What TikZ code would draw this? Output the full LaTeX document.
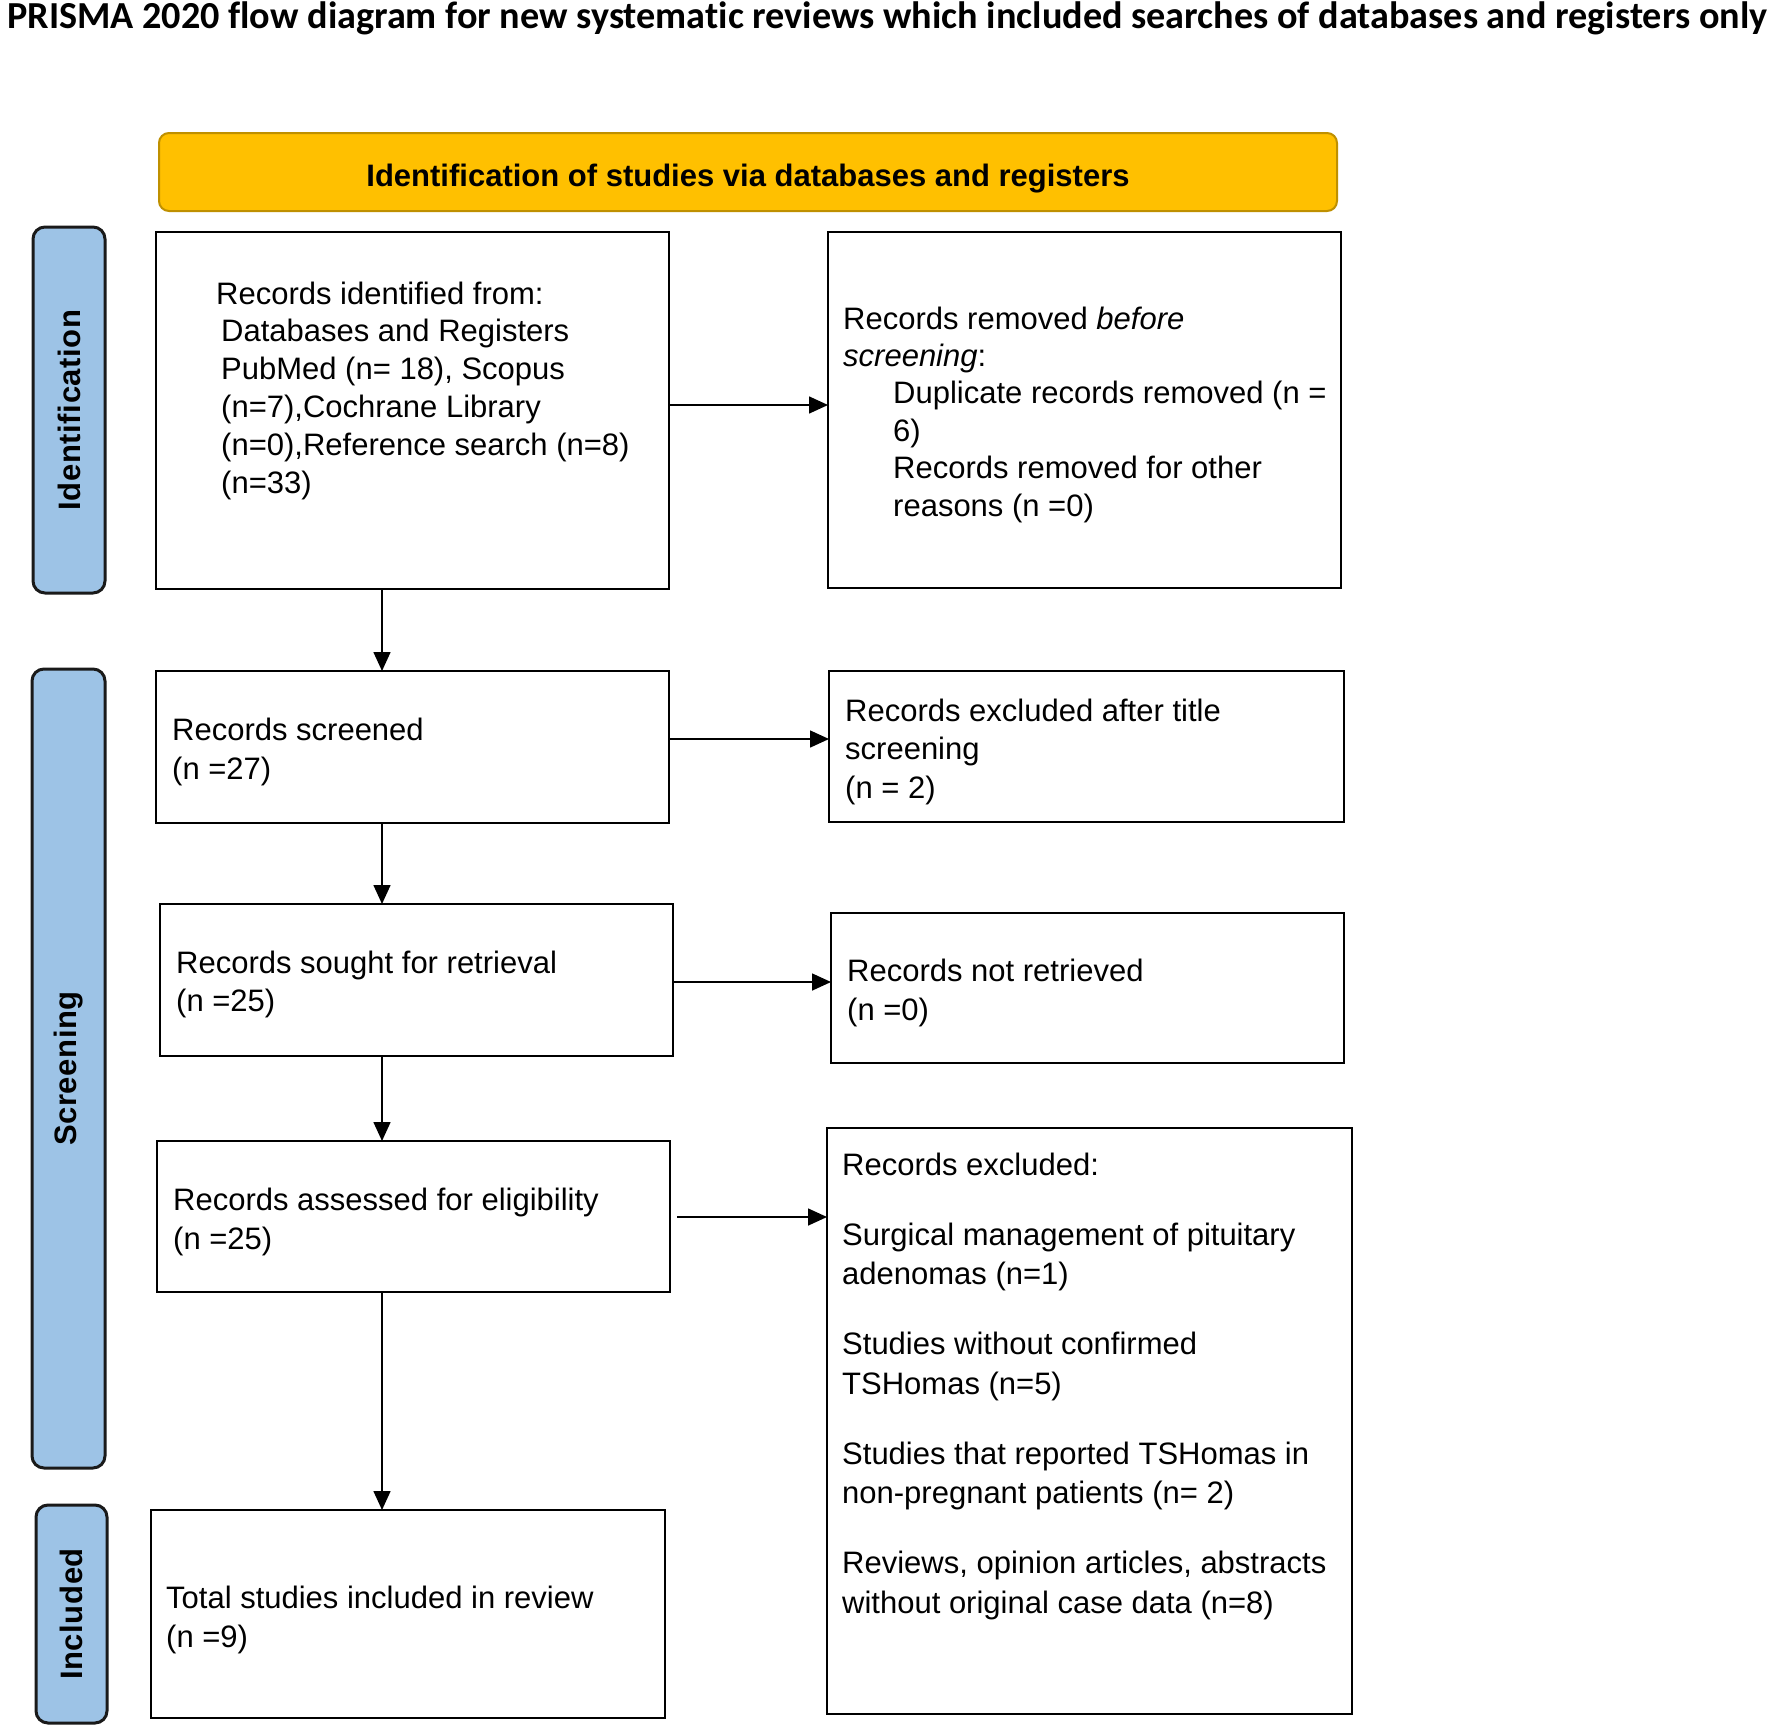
\documentclass[tikz,border=0pt]{standalone}
\usepackage{graphicx}
\usepackage{fontspec}
\setmainfont{Liberation Sans}
\newfontfamily\titlefont[Ligatures=NoCommon]{Carlito}
\newfontfamily\sidefont[LetterSpace=2]{Liberation Sans}
\usetikzlibrary{arrows.meta}
\definecolor{yelfill}{HTML}{FFC000}
\definecolor{yeldraw}{HTML}{BF9000}
\definecolor{sidefill}{HTML}{9DC3E6}
\definecolor{sidedraw}{HTML}{1A1A1A}
\begin{document}
\begin{tikzpicture}[x=1pt,y=-1pt,
  prbox/.style={draw=black, line width=2.5pt, fill=white, inner sep=0pt, outer sep=0pt},
  yel/.style={draw=yeldraw, fill=yelfill, line width=2pt, rounded corners=10pt, inner sep=0pt, outer sep=0pt},
  sidebar/.style={draw=sidedraw, fill=sidefill, line width=3pt, rounded corners=12pt, inner sep=0pt, outer sep=0pt},
  sidelabel/.style={rotate=90, inner sep=0pt, font=\sidefont\bfseries\fontsize{31}{37}\selectfont},
  txt/.style={anchor=north west, inner sep=0pt, align=left, font=\fontsize{31}{#1}\selectfont},
  txt/.default=38.5,
  arr/.style={line width=1.6pt, -{Triangle[length=19pt,width=17pt]}}
]
\useasboundingbox (0,0) rectangle (1772,1729);
\fill[white] (0,0) rectangle (1772,1729);

% title
\node[anchor=base west, inner sep=0pt] (title) at (7,28)
  {\resizebox{1760pt}{!}{\titlefont\bfseries PRISMA 2020 flow diagram for new systematic reviews which included searches of databases and registers only}};

% header
\node[yel, minimum width=1178pt, minimum height=78pt] (head) at (748,172) {};
\node[anchor=base, inner sep=0pt, font=\bfseries\fontsize{31}{37}\selectfont] (headtxt) at (748,186)
  {Identification of studies via databases and registers};

% sidebars
\node[sidebar, minimum width=72pt, minimum height=366pt] (sid1) at (69,410) {};
\node[sidelabel] (sid1t) at (sid1.center) {Identification};
\node[sidebar, minimum width=73pt, minimum height=799pt] (sid2) at (68.5,1068.5) {};
\node[sidelabel] (sid2t) at (sid2.center) {Screening};
\node[sidebar, minimum width=71pt, minimum height=218pt] (sid3) at (71.5,1614) {};
\node[sidelabel] (sid3t) at (sid3.center) {Included};

% boxes
\node[prbox, minimum width=513pt, minimum height=357pt] (b1) at (412.5,410.5) {};
\node[prbox, minimum width=513pt, minimum height=356pt] (rem) at (1084.5,410) {};
\node[prbox, minimum width=513pt, minimum height=152pt] (scr) at (412.5,747) {};
\node[prbox, minimum width=515pt, minimum height=151pt] (ext) at (1086.5,746.5) {};
\node[prbox, minimum width=513pt, minimum height=152pt] (sou) at (416.5,980) {};
\node[prbox, minimum width=513pt, minimum height=150pt] (nre) at (1087.5,988) {};
\node[prbox, minimum width=513pt, minimum height=151pt] (ass) at (413.5,1216.5) {};
\node[prbox, minimum width=525pt, minimum height=586pt] (exc) at (1089.5,1421) {};
\node[prbox, minimum width=514pt, minimum height=208pt] (tot) at (408,1614) {};

% texts
\node[txt=37.8] (b1t) at (216,277.5) {\strut Records identified from:\\
\hspace*{5pt}\strut Databases and Registers\\
\hspace*{5pt}\strut PubMed (n= 18), Scopus\\
\hspace*{5pt}\strut (n=7),Cochrane Library\\
\hspace*{5pt}\strut (n=0),Reference search (n=8)\\
\hspace*{5pt}\strut (n=33)};
\node[txt=37.4] (remt) at (843,302.8) {\strut Records removed \textit{before}\\
\strut\textit{screening}:\\
\hspace*{50pt}\strut Duplicate records removed (n =\\
\hspace*{50pt}\strut 6)\\
\hspace*{50pt}\strut Records removed for other\\
\hspace*{50pt}\strut reasons (n =0)};
\node[txt=39] (scrt) at (172,712.7) {\strut Records screened\\ \strut (n =27)};
\node[txt=38.5] (extt) at (845,694) {\strut Records excluded after title\\ \strut screening\\ \strut (n = 2)};
\node[txt=38] (sout) at (176,946.4) {\strut Records sought for retrieval\\ \strut (n =25)};
\node[txt=39] (nret) at (847,953.7) {\strut Records not retrieved\\ \strut (n =0)};
\node[txt=39] (asst) at (173,1182.7) {\strut Records assessed for eligibility\\ \strut (n =25)};
\node[txt=39.5] (exct) at (842,1147.4) {\strut Records excluded:\\[30.5pt]
\strut Surgical management of pituitary\\
\strut adenomas (n=1)\\[30.5pt]
\strut Studies without confirmed\\
\strut TSHomas (n=5)\\[30.5pt]
\strut Studies that reported TSHomas in\\
\strut non-pregnant patients (n= 2)\\[30.5pt]
\strut Reviews, opinion articles, abstracts\\
\strut without original case data (n=8)};
\node[txt=39] (tott) at (166,1580.7) {\strut Total studies included in review\\ \strut (n =9)};

% connectors
\coordinate (vx) at (382,0);
\coordinate (h1) at (0,405);
\coordinate (h2) at (0,739);
\coordinate (h3) at (0,982);
\coordinate (h4) at (0,1217);
\draw[arr] (b1.south -| vx) -- (scr.north -| vx);
\draw[arr] (scr.south -| vx) -- (sou.north -| vx);
\draw[arr] (sou.south -| vx) -- (ass.north -| vx);
\draw[arr] (ass.south -| vx) -- (tot.north -| vx);
\draw[arr] (b1.east |- h1) -- (rem.west |- h1);
\draw[arr] (scr.east |- h2) -- (ext.west |- h2);
\draw[arr] (sou.east |- h3) -- (nre.west |- h3);
\draw[arr, shorten <=7pt] (ass.east |- h4) -- (exc.west |- h4);
\end{tikzpicture}
\end{document}
